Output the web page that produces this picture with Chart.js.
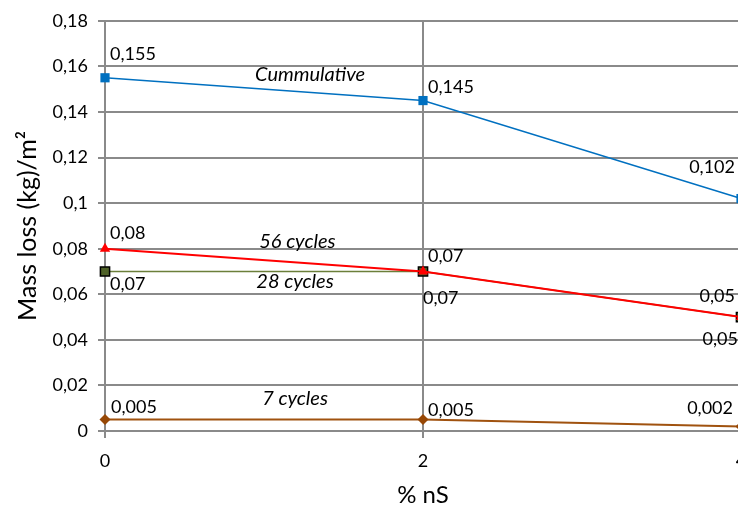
<!DOCTYPE html>
<html>
<head>
<meta charset="utf-8">
<script src="https://cdn.jsdelivr.net/npm/chart.js@4/dist/chart.umd.min.js"></script>
<style>
  html, body { margin: 0; padding: 0; background: #fff; overflow: hidden; }
  #wrap { width: 800px; height: 510px; }
</style>
</head>
<body>
<div id="wrap"><canvas id="c" width="800" height="510"></canvas></div>
<script>
// % nanosilica content
const nsPercent = [0, 2, 4];
// mass loss (kg/m²) per series
const cumulative = [0.155, 0.145, 0.102];
const cycles56 = [0.08, 0.07, 0.05];
const cycles28 = [0.07, 0.07, 0.05];
const cycles7 = [0.005, 0.005, 0.002];
const seriesNames = ['Cummulative', '56 cycles', '28 cycles', '7 cycles'];
const xTickLabels = ['0', '2', '4'];
const yTickLabels = ['0', '0,02', '0,04', '0,06', '0,08', '0,1', '0,12', '0,14', '0,16', '0,18'];

const FONT = 'Lato, "Open Sans", sans-serif';
const GRID = '#8a8a8a';

const fmt = v => String(v).replace('.', ',');
const pts = arr => arr.map((y, i) => ({ x: nsPercent[i], y }));

// value label placement per point: [dx, dy, align]
const labelPos = [
  [[5, -24, 'left'], [5, -13, 'left'], [-6, -31, 'right']],
  [[5, -16, 'left'], [5, -15, 'left'], [-6, -21, 'right']],
  [[5, 13, 'left'], [0, 27, 'left'], [-3, 22, 'right']],
  [[6, -12, 'left'], [5, -9, 'left'], [-8, -18, 'right']]
];
// series name text boxes in data coordinates
const nameAt = [[1.29, 0.1564], [1.21, 0.083], [1.195, 0.0655], [1.195, 0.0144]];

const valueLabels = {
  id: 'valueLabels',
  afterDatasetsDraw(chart) {
    const ctx = chart.ctx;
    ctx.save();
    ctx.font = '18px ' + FONT;
    ctx.fillStyle = '#000';
    ctx.textBaseline = 'middle';
    chart.data.datasets.forEach((ds, di) => {
      const meta = chart.getDatasetMeta(di);
      meta.data.forEach((el, i) => {
        const [dx, dy, al] = labelPos[di][i];
        ctx.textAlign = al;
        ctx.fillText(fmt(ds.data[i].y), el.x + dx, el.y + dy);
      });
    });
    ctx.font = 'italic 20px ' + FONT;
    ctx.textAlign = 'center';
    const xs = chart.scales.x, ys = chart.scales.y;
    seriesNames.forEach((n, i) => {
      ctx.fillText(n, xs.getPixelForValue(nameAt[i][0]), ys.getPixelForValue(nameAt[i][1]));
    });
    ctx.restore();
  }
};

new Chart(document.getElementById('c'), {
  type: 'line',
  data: {
    datasets: [
      { label: seriesNames[0], data: pts(cumulative), borderColor: '#0070C0', backgroundColor: '#0070C0',
        borderWidth: 1.5, pointStyle: 'rect', pointRadius: 6.5, pointBorderWidth: 0, order: 1, clip: false },
      { label: seriesNames[1], data: pts(cycles56), borderColor: '#FF0000', backgroundColor: '#FF0000',
        borderWidth: 2, pointStyle: 'triangle', pointRadius: 6, pointBorderWidth: 0, order: 2, clip: false },
      { label: seriesNames[2], data: pts(cycles28), borderColor: '#6b7f3a', backgroundColor: '#4F6228',
        pointBorderColor: '#000', borderWidth: 1.5, pointStyle: 'rect', pointRadius: 6.5, pointBorderWidth: 1.5, order: 3, clip: false },
      { label: seriesNames[3], data: pts(cycles7), borderColor: '#A0520F', backgroundColor: '#974806',
        borderWidth: 2, pointStyle: 'rectRot', pointRadius: 5.5, pointBorderWidth: 0, order: 4, clip: false }
    ]
  },
  options: {
    responsive: false,
    animation: false,
    events: [],
    layout: { padding: { left: 0, top: 19, right: 59, bottom: 0 } },
    plugins: { legend: { display: false }, tooltip: { enabled: false } },
    scales: {
      x: {
        type: 'linear', min: 0, max: 4,
        afterFit: s => { s.height = 79; },
        grid: { color: GRID, lineWidth: 2, tickLength: 7, drawTicks: true },
        border: { color: GRID, width: 2 },
        ticks: { stepSize: 2, padding: 12, color: '#000', font: { family: FONT, size: 18 },
          callback: (v, i) => xTickLabels[i] },
        title: { display: true, text: '% nS', color: '#000', font: { family: FONT, size: 24 },
          padding: { top: 0, bottom: 0 } }
      },
      y: {
        min: 0, max: 0.18,
        afterFit: s => { s.width = 105; },
        grid: { color: GRID, lineWidth: 2, tickLength: 7 },
        border: { color: GRID, width: 2 },
        ticks: { stepSize: 0.02, padding: 10, color: '#000', font: { family: FONT, size: 18 },
          callback: (v, i) => yTickLabels[i] },
        title: { display: true, text: 'Mass loss (kg)/m²', color: '#000', font: { family: FONT, size: 25 },
          padding: { top: 13, bottom: 0 } }
      }
    }
  },
  plugins: [valueLabels]
});
</script>
</body>
</html>
